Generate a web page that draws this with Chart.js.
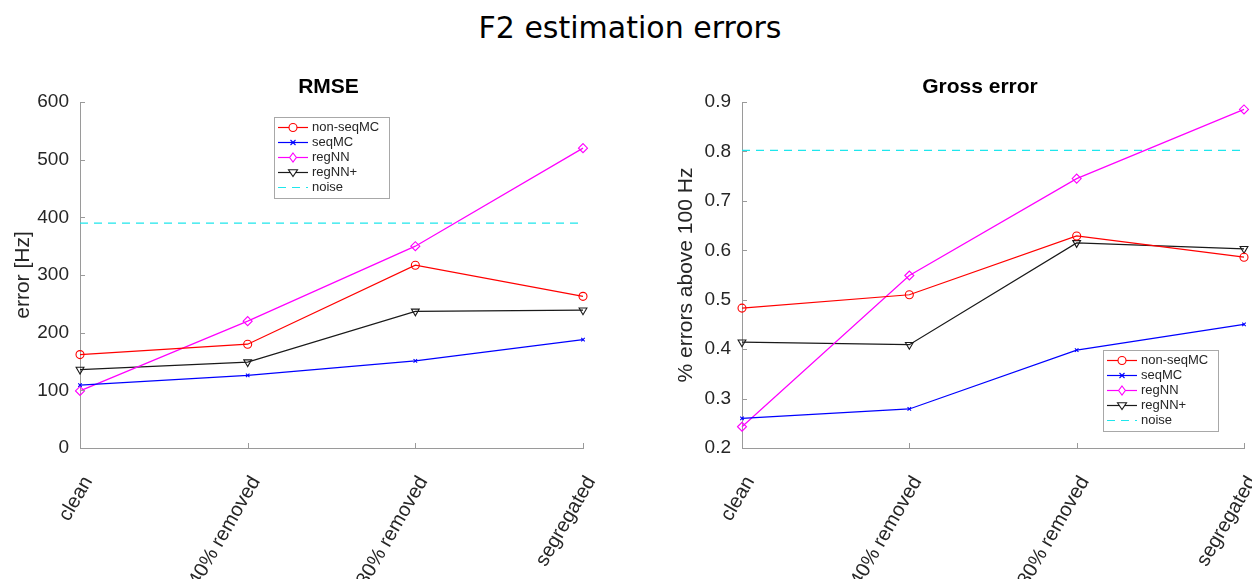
<!DOCTYPE html>
<html>
<head>
<meta charset="utf-8">
<title>F2 estimation errors</title>
<script src="https://cdn.jsdelivr.net/npm/chart.js@4.4.1/dist/chart.umd.min.js"></script>
<style>
  body { margin: 0; background: #fff; }
  #wrap { position: relative; width: 1252px; height: 579px; overflow: hidden; }
  #mainTitle {
    position: absolute; left: 4px; top: 13px; width: 1252px;
    text-align: center; font: 30px/30px "DejaVu Sans", sans-serif; color: #000;
  }
  .pane { position: absolute; top: 0; width: 626px; height: 579px; }
</style>
</head>
<body>
<div id="wrap">
  <div id="mainTitle">F2 estimation errors</div>
  <div class="pane" style="left:0"><canvas id="rmse"></canvas></div>
  <div class="pane" style="left:626px"><canvas id="gross"></canvas></div>
</div>
<script>
// categories on the x axis (same for both plots)
var categories = ['clean', '40% removed', '80% removed', 'segregated'];

// left plot: RMSE in Hz
var rmseNonSeqMC = [162, 180, 317, 263];
var rmseSeqMC = [109, 126, 151, 188];
var rmseRegNN = [99, 220, 350, 520];
var rmseRegNNplus = [136, 149, 237, 239];
var rmseNoise = [390, 390, 390, 390];
var rmseTicks = [0, 100, 200, 300, 400, 500, 600];

// right plot: fraction of errors above 100 Hz
var grossNonSeqMC = [0.483, 0.510, 0.629, 0.586];
var grossSeqMC = [0.260, 0.279, 0.398, 0.450];
var grossRegNN = [0.243, 0.549, 0.745, 0.885];
var grossRegNNplus = [0.414, 0.409, 0.615, 0.603];
var grossNoise = [0.802, 0.802, 0.802, 0.802];
var grossTicks = [0.2, 0.3, 0.4, 0.5, 0.6, 0.7, 0.8, 0.9];

var seriesNames = ['non-seqMC', 'seqMC', 'regNN', 'regNN+', 'noise'];

var FONT = '"Liberation Sans", Arial, sans-serif';
var TEXT = '#262626';
var AXIS = '#9a9a9a';

var styles = [
    { color: '#ff0000', marker: 'circle', radius: 4, rot: 0, dash: [] },
    { color: '#0000ff', marker: 'crossRot', radius: 2.5, rot: 0, dash: [] },
    { color: '#ff00ff', marker: 'rectRot', radius: 4.5, rot: 0, dash: [] },
    { color: '#1a1a1a', marker: 'triangle', radius: 4.5, rot: 180, dash: [] },
    { color: '#1ee6ec', marker: false, radius: 0, rot: 0, dash: [8, 6] }
];

function makeDatasets(values) {
    var out = [];
    for (var i = 0; i < values.length; ++i) {
        var s = styles[i];
        out.push({
            label: seriesNames[i],
            data: values[i],
            borderColor: s.color,
            backgroundColor: s.color,
            borderWidth: 1.2,
            borderDash: s.dash,
            pointStyle: s.marker,
            pointRadius: s.radius,
            pointRotation: s.rot,
            pointBorderColor: s.color,
            pointBackgroundColor: 'rgba(255,255,255,0)',
            pointBorderWidth: 1.1,
            pointHoverRadius: s.radius,
            tension: 0,
            fill: false
        });
    }
    return out;
}

// small marker for the legend sample
function drawMarker(ctx, s, x, y) {
    var r = s.radius;
    ctx.save();
    ctx.strokeStyle = s.color;
    ctx.lineWidth = 1.1;
    ctx.setLineDash([]);
    ctx.beginPath();
    if (s.marker == 'circle') {
        ctx.fillStyle = '#fff';
        ctx.arc(x, y, r, 0, Math.PI * 2);
        ctx.fill();
    } else if (s.marker == 'crossRot') {
        ctx.moveTo(x - r, y - r); ctx.lineTo(x + r, y + r);
        ctx.moveTo(x - r, y + r); ctx.lineTo(x + r, y - r);
    } else if (s.marker == 'rectRot') {
        ctx.fillStyle = '#fff';
        ctx.moveTo(x, y - r); ctx.lineTo(x + r * 0.75, y);
        ctx.lineTo(x, y + r); ctx.lineTo(x - r * 0.75, y);
        ctx.closePath();
        ctx.fill();
    } else if (s.marker == 'triangle') {
        ctx.fillStyle = '#fff';
        ctx.moveTo(x - r, y - r * 0.6); ctx.lineTo(x + r, y - r * 0.6);
        ctx.lineTo(x, y + r * 0.9);
        ctx.closePath();
        ctx.fill();
    }
    ctx.stroke();
    ctx.restore();
}

// legend box drawn inside the axes, like the matlab one
var boxLegend = {
    id: 'boxLegend',
    afterDatasetsDraw: function (chart) {
        var o = chart.options.plugins.boxLegend;
        if (!o) return;
        var a = chart.chartArea;
        var ctx = chart.ctx;
        var w = 115, h = 81;
        var left = o.left != null ? a.left + o.left : a.right - o.right - w;
        var top = o.top != null ? a.top + o.top : a.bottom - o.bottom - h;
        ctx.save();
        ctx.fillStyle = '#fff';
        ctx.fillRect(left, top, w, h);
        ctx.strokeStyle = '#a8a8a8';
        ctx.lineWidth = 1;
        ctx.strokeRect(left + 0.5, top + 0.5, w, h);
        ctx.font = '13px ' + FONT;
        ctx.textBaseline = 'middle';
        ctx.fillStyle = TEXT;
        for (var i = 0; i < seriesNames.length; ++i) {
            var s = styles[i];
            var y = top + 10.5 + i * 15;
            ctx.strokeStyle = s.color;
            ctx.lineWidth = 1.2;
            ctx.setLineDash(s.dash);
            ctx.beginPath();
            ctx.moveTo(left + 4, y);
            ctx.lineTo(left + 34, y);
            ctx.stroke();
            ctx.setLineDash([]);
            if (s.marker) drawMarker(ctx, s, left + 19, y);
            ctx.fillStyle = TEXT;
            ctx.fillText(seriesNames[i], left + 38, y);
        }
        ctx.restore();
    }
};

// bold axes title above the plot area
var axesTitle = {
    id: 'axesTitle',
    afterDraw: function (chart) {
        var o = chart.options.plugins.axesTitle;
        var a = chart.chartArea;
        var ctx = chart.ctx;
        ctx.save();
        ctx.font = 'bold 21px ' + FONT;
        ctx.fillStyle = '#000';
        ctx.textAlign = 'center';
        ctx.textBaseline = 'alphabetic';
        ctx.fillText(o.text, (a.left + a.right) / 2 + o.dx, a.top - 9);
        ctx.restore();
    }
};

// matlab style ticks pointing into the plot
var innerTicks = {
    id: 'innerTicks',
    afterDraw: function (chart) {
        var ctx = chart.ctx;
        var a = chart.chartArea;
        var xs = chart.scales.x, ys = chart.scales.y;
        ctx.save();
        ctx.strokeStyle = AXIS;
        ctx.lineWidth = 1;
        ctx.beginPath();
        for (var i = 0; i < xs.ticks.length; ++i) {
            var x = Math.round(xs.getPixelForTick(i)) + 0.5;
            ctx.moveTo(x, a.bottom);
            ctx.lineTo(x, a.bottom - 5);
        }
        for (var j = 0; j < ys.ticks.length; ++j) {
            var y = Math.round(ys.getPixelForTick(j)) + 0.5;
            ctx.moveTo(a.left, y);
            ctx.lineTo(a.left + 5, y);
        }
        ctx.stroke();
        ctx.restore();
    }
};

function makeChart(id, title, titleDx, yTitle, values, yTicks, yAxisWidth, yTitlePad, padRight, legendPos, decimals) {
    return new Chart(document.getElementById(id), {
        type: 'line',
        data: { labels: categories, datasets: makeDatasets(values) },
        plugins: [boxLegend, innerTicks, axesTitle],
        options: {
            responsive: true,
            maintainAspectRatio: false,
            animation: false,
            layout: { padding: { left: 0, right: padRight, top: 102, bottom: 0 } },
            plugins: {
                legend: { display: false },
                tooltip: { enabled: false },
                title: { display: false },
                axesTitle: { text: title, dx: titleDx },
                boxLegend: legendPos
            },
            scales: {
                x: {
                    type: 'category',
                    offset: false,
                    grid: { display: false, drawTicks: false },
                    border: { display: true, color: AXIS, width: 1 },
                    ticks: {
                        autoSkip: false,
                        minRotation: 60,
                        maxRotation: 60,
                        padding: 24,
                        labelOffset: 8,
                        color: TEXT,
                        font: { family: FONT, size: 20 }
                    },
                    afterFit: function (scale) {
                        scale.height = 131;
                        scale.paddingLeft = 0;
                        scale.paddingRight = 0;
                    }
                },
                y: {
                    min: yTicks[0],
                    max: yTicks[yTicks.length - 1],
                    grid: { display: false, drawTicks: false },
                    border: { display: true, color: AXIS, width: 1 },
                    afterBuildTicks: function (scale) {
                        scale.ticks = yTicks.map(function (v) { return { value: v }; });
                    },
                    ticks: {
                        padding: 11,
                        color: TEXT,
                        font: { family: FONT, size: 19 },
                        callback: function (v) { return v.toFixed(decimals); }
                    },
                    title: {
                        display: true,
                        text: yTitle,
                        color: TEXT,
                        font: { family: FONT, size: 21 },
                        padding: { top: yTitlePad, bottom: 0 }
                    },
                    afterFit: function (scale) {
                        scale.width = yAxisWidth;
                    }
                }
            }
        }
    });
}

var rmseChart = makeChart('rmse', 'RMSE', -3, 'error [Hz]',
    [rmseNonSeqMC, rmseSeqMC, rmseRegNN, rmseRegNNplus, rmseNoise],
    rmseTicks, 80, 11, 43, { left: 194, top: 15 }, 0);

var grossChart = makeChart('gross', 'Gross error', -13, '% errors above 100 Hz',
    [grossNonSeqMC, grossSeqMC, grossRegNN, grossRegNNplus, grossNoise],
    grossTicks, 116, 48, 8, { right: 26, bottom: 17 }, 1);
</script>
</body>
</html>
